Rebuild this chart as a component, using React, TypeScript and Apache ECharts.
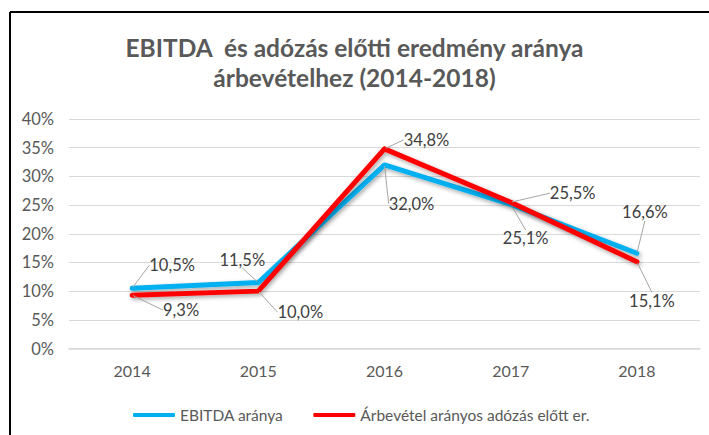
import React, { useEffect, useRef } from "react";
import * as echarts from "echarts";

const titleText = "EBITDA  és adózás előtti eredmény aránya\nárbevételhez (2014-2018)";
const years = ["2014", "2015", "2016", "2017", "2018"];
const seriesNames = ["EBITDA aránya", "Árbevétel arányos adózás előtt er."];
const ebitda = [10.5, 11.5, 32.0, 25.1, 16.6];
const pretax = [9.3, 10.0, 34.8, 25.5, 15.1];
const yTicks = { min: 0, max: 40, interval: 5 };

// label offsets (dx, dy) relative to each point
const ebitdaLabelOffsets = [
  [40, -23],
  [-16, -23],
  [27, 39],
  [15, 34],
  [8, -41],
];
const pretaxLabelOffsets = [
  [49, 15],
  [42, 21],
  [42, -9],
  [62, -9],
  [15, 39],
];

const FONT = "Lato, 'Open Sans', sans-serif";
const fmt = (v: number) => v.toFixed(1).replace(".", ",") + "%";

export default function App() {
  const ref = useRef<HTMLDivElement>(null);
  useEffect(() => {
    if (!ref.current) return;
    const chart = echarts.init(ref.current, undefined, { renderer: "svg" });
    const mkSeries = (
      name: string,
      data: number[],
      color: string,
      offsets: number[][],
      z: number
    ) => ({
      name,
      type: "line",
      data,
      z,
      symbol: "circle",
      symbolSize: 2,
      showSymbol: true,
      itemStyle: { color },
      lineStyle: {
        color,
        width: 5,
        cap: "round",
        join: "round",
        shadowColor: "rgba(0,0,0,0.35)",
        shadowBlur: 4,
        shadowOffsetX: 1.5,
        shadowOffsetY: 2,
      },
      label: {
        show: true,
        position: "inside",
        align: "center",
        verticalAlign: "middle",
        formatter: (p: any) => fmt(p.value),
        color: "#404040",
        fontSize: 16.5,
        fontFamily: FONT,
      },
      labelLine: {
        show: true,
        lineStyle: { color: "#a6a6a6", width: 1 },
      },
      labelLayout: (p: any) => ({
        dx: offsets[p.dataIndex][0],
        dy: offsets[p.dataIndex][1],
      }),
    });
    chart.setOption({
      animation: false,
      backgroundColor: "#ffffff",
      title: {
        text: titleText,
        left: "center",
        top: 27,
        itemGap: 0,
        textStyle: {
          fontFamily: FONT,
          fontSize: 24.5,
          fontWeight: "bold",
          color: "#595959",
          lineHeight: 30,
        },
      },
      grid: { left: 69, right: 9, top: 119, bottom: 86.5, containLabel: false },
      xAxis: {
        type: "category",
        data: years,
        boundaryGap: true,
        axisLine: { show: true, lineStyle: { color: "#d9d9d9", width: 1.5 } },
        axisTick: { show: false },
        axisLabel: {
          color: "#595959",
          fontSize: 16,
          fontFamily: FONT,
          margin: 14,
        },
      },
      yAxis: {
        type: "value",
        min: yTicks.min,
        max: yTicks.max,
        interval: yTicks.interval,
        axisLine: { show: false },
        axisTick: { show: false },
        splitLine: { lineStyle: { color: "#d9d9d9", width: 1 } },
        axisLabel: {
          formatter: (v: number) => v + "%",
          color: "#595959",
          fontSize: 16.5,
          fontFamily: FONT,
          margin: 15,
        },
      },
      legend: {
        left: 128,
        top: 402,
        itemGap: 30,
        itemWidth: 42,
        itemHeight: 4,
        icon: "roundRect",
        textStyle: { color: "#595959", fontSize: 15.5, fontFamily: FONT },
        data: seriesNames,
      },
      graphic: [
        {
          type: "line",
          shape: { x1: 10, y1: 12, x2: 709, y2: 12 },
          style: { stroke: "#000000", lineWidth: 2 },
        },
        {
          type: "line",
          shape: { x1: 10, y1: 12, x2: 10, y2: 435 },
          style: { stroke: "#000000", lineWidth: 2 },
        },
      ],
      series: [
        mkSeries(seriesNames[0], ebitda, "#00b0f0", ebitdaLabelOffsets, 2),
        mkSeries(seriesNames[1], pretax, "#ff0000", pretaxLabelOffsets, 3),
      ],
    });
    return () => chart.dispose();
  }, []);
  return (
    <div
      ref={ref}
      style={{ position: "fixed", left: 0, top: 0, width: 709, height: 435 }}
    />
  );
}
